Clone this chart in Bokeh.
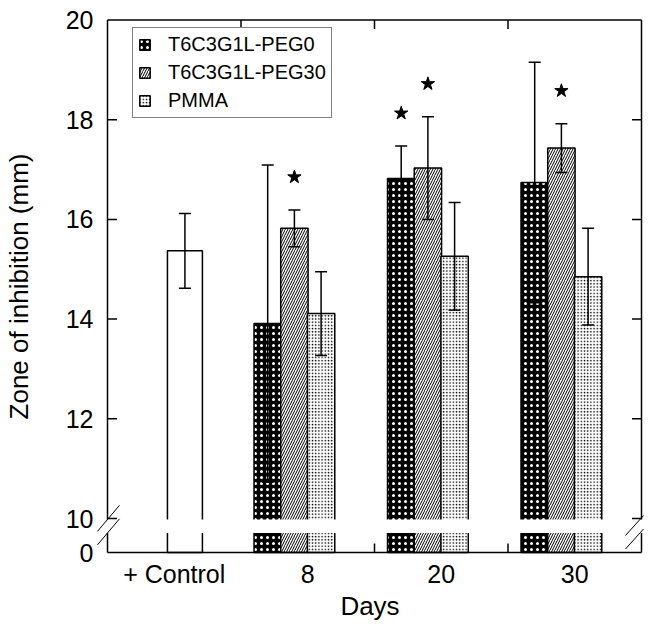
from bokeh.plotting import figure
from bokeh.models import (Range1d, FixedTicker, ColumnDataSource, Whisker, TeeHead,
                          Legend, LegendItem)
from bokeh.embed import file_html
from bokeh.resources import INLINE

# ---------------- data ----------------
CATEGORIES = ["+ Control", "8", "20", "30"]
SERIES_NAMES = ["T6C3G1L-PEG0", "T6C3G1L-PEG30", "PMMA"]
CONTROL_MEAN = 15.37
CONTROL_SD = 0.75
PEG0_MEAN = [13.91, 16.82, 16.74]
PEG0_SD = [3.18, 0.65, 2.41]
PEG30_MEAN = [15.82, 17.03, 17.43]
PEG30_SD = [0.37, 1.03, 0.49]
PMMA_MEAN = [14.11, 15.26, 14.85]
PMMA_SD = [0.84, 1.08, 0.97]
PEG0_SIG = [False, True, False]
PEG30_SIG = [True, True, True]
PMMA_SIG = [False, False, False]
Y_TICKS = [0, 10, 12, 14, 16, 18, 20]

# ---------------- layout constants ----------------
PX_X = 133.5          # pixels per category unit
PX_Y = 49.85          # pixels per mm above the break
BREAK_AT = 10
AXIS_ZERO = BREAK_AT - 34 / PX_Y      # where "0" sits under the break
BREAK_HI = BREAK_AT - 1 / PX_Y
BREAK_LO = BREAK_AT - 14.5 / PX_Y
Y_TOP = 20
NCAT = len(CATEGORIES)
FONT = "Liberation Sans"


def disp(v):
    return v if v >= BREAK_AT else AXIS_ZERO


p = figure(frame_width=549, frame_height=536, output_backend="svg",
           toolbar_location=None,
           x_range=Range1d(-12 / PX_X, NCAT + 3 / PX_X),
           y_range=Range1d(AXIS_ZERO - 2 / PX_Y, Y_TOP + 1.5 / PX_Y),
           min_border_left=95, min_border_right=4, min_border_top=18,
           min_border_bottom=70)
p.outline_line_color = None
p.xgrid.visible = False
p.ygrid.visible = False
p.background_fill_color = "white"

LW = 1.5

# ---------------- bars ----------------
ctrl_src = ColumnDataSource(dict(x=[0.5 + 0.08], top=[CONTROL_MEAN],
                                 upper=[CONTROL_MEAN + CONTROL_SD],
                                 lower=[CONTROL_MEAN - CONTROL_SD]))
p.vbar(x="x", top="top", bottom=disp(0), width=0.262, source=ctrl_src,
       fill_color="white", line_color="black", line_width=LW)

offsets = [-0.3, -0.1, 0.1]
means = [PEG0_MEAN, PEG30_MEAN, PMMA_MEAN]
sds = [PEG0_SD, PEG30_SD, PMMA_SD]
sigs = [PEG0_SIG, PEG30_SIG, PMMA_SIG]
styles = [
    dict(fill_color="black", hatch_pattern="dot", hatch_color="white",
         hatch_scale=6, hatch_weight=0.45),
    dict(fill_color="white", hatch_pattern="/", hatch_color="black",
         hatch_scale=5, hatch_weight=1),
    dict(fill_color="white", hatch_pattern="dot", hatch_color="black",
         hatch_scale=3.2, hatch_weight=0.55),
]
renderers = []
srcs = []
for k in range(3):
    xs = [i + 1 + 0.5 + offsets[k] for i in range(len(means[k]))]
    src = ColumnDataSource(dict(
        x=xs, top=means[k],
        upper=[m + s for m, s in zip(means[k], sds[k])],
        lower=[m - s for m, s in zip(means[k], sds[k])]))
    srcs.append(src)
    r = p.vbar(x="x", top="top", bottom=disp(0), width=0.205, source=src,
               line_color="black", line_width=LW, **styles[k])
    renderers.append(r)

# ---------------- axis break gap ----------------
p.quad(left=[0], right=[NCAT], bottom=[BREAK_LO], top=[BREAK_HI],
       fill_color="white", line_color=None)

# ---------------- frame (with break) ----------------
fx0 = [0, 0, 0, 0, NCAT, NCAT]
fy0 = [Y_TOP, disp(0), BREAK_HI, disp(0), BREAK_HI, disp(0)]
fx1 = [NCAT, NCAT, 0, 0, NCAT, NCAT]
fy1 = [Y_TOP, disp(0), Y_TOP, BREAK_LO, Y_TOP, BREAK_LO]
p.segment(x0=fx0, y0=fy0, x1=fx1, y1=fy1, line_color="black", line_width=LW)

# ---------------- ticks (inside) ----------------
TX = 9.5 / PX_X
TY = 9 / PX_Y
inner = [t for t in Y_TICKS if BREAK_AT <= t < Y_TOP]
p.segment(x0=[0] * len(inner), y0=inner, x1=[TX] * len(inner), y1=inner,
          line_color="black", line_width=LW)
p.segment(x0=[NCAT] * len(inner), y0=inner, x1=[NCAT - TX] * len(inner), y1=inner,
          line_color="black", line_width=LW)
top_sep = [1, 2, 3]
p.segment(x0=top_sep, y0=[Y_TOP] * 3, x1=top_sep, y1=[Y_TOP - TY] * 3,
          line_color="black", line_width=LW)
bot_sep = [2, 3]
p.segment(x0=bot_sep, y0=[disp(0)] * 2, x1=bot_sep, y1=[disp(0) + TY] * 2,
          line_color="black", line_width=LW)

# ---------------- break marks ----------------
sx0, sy0, sx1, sy1 = [], [], [], []
for yb in (BREAK_HI, BREAK_LO):
    sx0.append(-10 / PX_X); sy0.append(yb - 11.8 / PX_Y)
    sx1.append(12 / PX_X); sy1.append(yb + 14.2 / PX_Y)
    sx0.append(NCAT - 16 / PX_X); sy0.append(yb - 16 / PX_Y)
    sx1.append(NCAT + 2 / PX_X); sy1.append(yb + 4 / PX_Y)
p.segment(x0=sx0, y0=sy0, x1=sx1, y1=sy1, line_color="black", line_width=1)

# ---------------- error bars ----------------
for src in [ctrl_src] + srcs:
    w = Whisker(source=src, base="x", upper="upper", lower="lower",
                dimension="height", line_color="black", line_width=LW,
                upper_head=TeeHead(size=12, line_width=LW, line_color="black"),
                lower_head=TeeHead(size=12, line_width=LW, line_color="black"),
                level="overlay")
    p.add_layout(w)

# ---------------- significance stars ----------------
STAR_GAP = 0.66
star_x, star_y = [], []
for k in range(3):
    for i, s in enumerate(sigs[k]):
        if s:
            star_x.append(i + 1 + 0.5 + offsets[k])
            star_y.append(means[k][i] + sds[k][i] + STAR_GAP)
p.scatter(star_x, star_y, marker="star", size=14, fill_color="black",
          line_color="black", line_width=1, level="overlay")

# ---------------- axes ----------------
xax = p.xaxis[0]
xax.ticker = FixedTicker(ticks=[i + 0.5 for i in range(NCAT)], minor_ticks=[])
xax.major_label_overrides = {i + 0.5: c for i, c in enumerate(CATEGORIES)}
xax.axis_label = "Days"
yax = p.yaxis[0]
ytick_pos = [disp(t) for t in Y_TICKS]
yax.ticker = FixedTicker(ticks=ytick_pos, minor_ticks=[])
yax.major_label_overrides = {disp(t): str(t) for t in Y_TICKS}
yax.axis_label = "Zone of inhibition (mm)"
for ax in (xax, yax):
    ax.axis_line_color = None
    ax.major_tick_line_color = None
    ax.minor_tick_line_color = None
    ax.major_tick_in = 0
    ax.major_tick_out = 0
    ax.minor_tick_in = 0
    ax.minor_tick_out = 0
    ax.major_label_text_font = FONT
    ax.major_label_text_font_size = "25px"
    ax.major_label_text_color = "black"
    ax.axis_label_text_font = FONT
    ax.axis_label_text_font_size = "26px"
    ax.axis_label_text_font_style = "normal"
    ax.axis_label_text_color = "black"
xax.major_label_standoff = 5
xax.axis_label_standoff = 0
yax.major_label_standoff = 2
yax.axis_label_standoff = 29

# ---------------- legend ----------------
legend = Legend(items=[LegendItem(label=n, renderers=[r])
                       for n, r in zip(SERIES_NAMES, renderers)],
                location=(37, 436), border_line_color="black",
                border_line_width=LW, padding=5, spacing=5, margin=0,
                glyph_width=13, glyph_height=13, label_standoff=17,
                label_height=20, label_text_font=FONT,
                label_text_font_size="20px", label_text_color="black",
                background_fill_color="white", background_fill_alpha=1)
p.add_layout(legend)

open("out.html", "w").write(file_html(p, INLINE))
